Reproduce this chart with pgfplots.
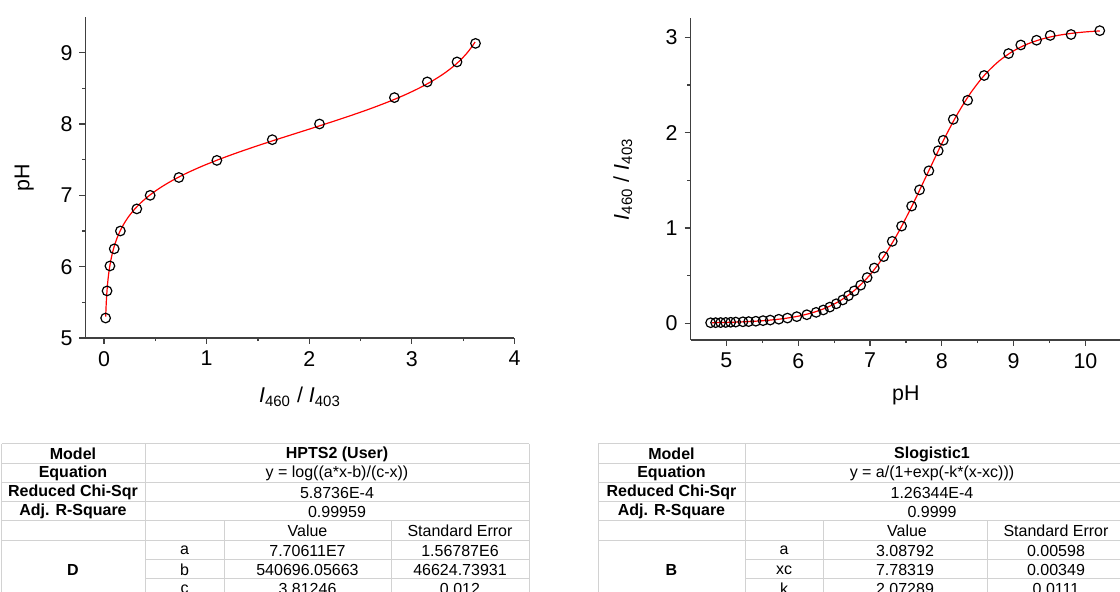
\documentclass[border=0pt]{standalone}
\usepackage{fontspec}
\setmainfont{Liberation Sans}
\usepackage{pgfplots}
\pgfplotsset{compat=1.18}

% fit parameters are only printed in the tables; curves are listed point by point
\pgfplotstableread{
x      y
0.016  5.28
0.030  5.66
0.058  6.01
0.100  6.25
0.160  6.50
0.320  6.81
0.450  7.00
0.730  7.25
1.100  7.49
1.640  7.78
2.100  8.00
2.830  8.37
3.150  8.59
3.440  8.87
3.620  9.13
}\phdata

\pgfplotstableread{
x       y
0.01684 5.30
0.01938 5.40
0.02257 5.50
0.02657 5.60
0.03161 5.70
0.03792 5.80
0.04584 5.90
0.05577 6.00
0.06819 6.10
0.08371 6.20
0.1031  6.30
0.1271  6.40
0.1570  6.50
0.1940  6.60
0.2394  6.70
0.2950  6.80
0.3626  6.90
0.4441  7.00
0.5414  7.10
0.6562  7.20
0.7897  7.30
0.9425  7.40
1.1142  7.50
1.3033  7.60
1.5067  7.70
1.7201  7.80
1.9386  7.90
2.1562  8.00
2.3675  8.10
2.5675  8.20
2.7522  8.30
2.9191  8.40
3.0668  8.50
3.1953  8.60
3.3053  8.70
3.3983  8.80
3.4759  8.90
3.5402  9.00
3.5930  9.10
3.6156  9.15
}\phfit

\pgfplotstableread{
x     y
4.78  0.006
4.85  0.007
4.92  0.008
4.99  0.009
5.06  0.011
5.13  0.013
5.23  0.016
5.31  0.018
5.41  0.022
5.51  0.028
5.61  0.034
5.73  0.043
5.85  0.055
5.98  0.070
6.12  0.090
6.25  0.115
6.35  0.140
6.44  0.170
6.53  0.205
6.62  0.245
6.70  0.290
6.78  0.340
6.87  0.400
6.96  0.480
7.06  0.580
7.19  0.700
7.31  0.860
7.44  1.020
7.58  1.230
7.69  1.400
7.82  1.600
7.95  1.810
8.02  1.920
8.16  2.140
8.36  2.340
8.59  2.600
8.93  2.830
9.10  2.920
9.32  2.970
9.51  3.020
9.80  3.030
10.20 3.070
}\ratiodata

\pgfplotstableread{
x     y
4.8   0.00635
5.0   0.00961
5.2   0.01452
5.4   0.02193
5.6   0.03308
5.8   0.04979
6.0   0.07477
6.2   0.1118
6.4   0.1661
6.6   0.2447
6.8   0.3559
7.0   0.5086
7.2   0.7099
7.4   0.9611
7.6   1.2543
7.8   1.5707
8.0   1.8852
8.2   2.1723
8.4   2.4155
8.6   2.6082
8.8   2.7534
9.0   2.8585
9.2   2.9324
9.4   2.9834
9.6   3.0181
9.8   3.0414
10.0  3.0570
10.2  3.0675
}\ratiofit

\pgfplotsset{
  origin/.style={
    scale only axis,
    axis x line*=bottom, axis y line*=left,
    axis line style={black!75, line width=0.7pt},
    every tick/.style={black!75, line width=0.6pt},
    tick align=outside,
    major tick length=3pt, minor tick length=1.6pt,
    minor tick num=1,
    tick label style={font=\fontsize{10.7}{12}\selectfont},
    label style={font=\fontsize{10.7}{12}\selectfont},
    /pgf/number format/assume math mode=true,
    clip=false,
  },
  dots/.style={only marks, mark=o, mark size=2.4pt,
    mark options={black, line width=0.6pt}},
  fitline/.style={red, line width=0.6pt, smooth, no marks},
}

\newcommand{\ratio}{{\itshape I}\textsubscript{460} / {\itshape I}\textsubscript{403}}
\newcommand{\hd}{\fontsize{8}{9}\selectfont\bfseries}

\begin{document}
\begin{tikzpicture}
\path[use as bounding box] (0,0) rectangle (560pt,-296pt);

% left: pH against intensity ratio
\begin{axis}[origin,
  at={(42.75pt,-169pt)}, anchor=south west,
  width=214.5pt, height=160.5pt,
  xmin=-0.18, xmax=4, ymin=5, ymax=9.5,
  xtick={0,1,2,3,4}, ytick={5,6,7,8,9},
  xlabel={\ratio}, ylabel={pH},
  xlabel style={at={(axis description cs:0.5,-0.183)}, anchor=center},
  ylabel style={at={(axis description cs:-0.143,0.5)}, anchor=center},
]
\addplot[dots] table {\phdata};
\addplot[fitline] table {\phfit};
\end{axis}

% right: intensity ratio against pH
\begin{axis}[origin,
  at={(345.25pt,-170pt)}, anchor=south west,
  width=215.4pt, height=160.85pt,
  xmin=4.5, xmax=10.5, ymin=-0.175, ymax=3.2,
  xtick={5,6,7,8,9,10}, ytick={0,1,2,3},
  xlabel={pH}, ylabel={\ratio},
  xlabel style={at={(axis description cs:0.5,-0.171)}, anchor=center},
  ylabel style={at={(axis description cs:-0.157,0.5)}, anchor=center},
]
\addplot[dots] table {\ratiodata};
\addplot[fitline] table {\ratiofit};
\end{axis}

% fit report tables, pixel units
\begin{scope}[x=0.5pt, y=-0.5pt, every node/.style={font=\fontsize{8}{9}\selectfont, inner sep=0pt}]
  \begin{scope}[gray!35, line width=0.5pt]
    % left table
    \draw (1.5,444) -- (529,444);
    \draw (1.5,463.5) -- (529,463.5);
    \draw (1.5,482.5) -- (529,482.5);
    \draw (1.5,502) -- (529,502);
    \draw (1.5,521) -- (529,521);
    \draw (1.5,540.5) -- (529,540.5);
    \draw (145,560) -- (529,560);
    \draw (145,579) -- (529,579);
    \draw (1.5,444) -- (1.5,600);
    \draw (145,444) -- (145,600);
    \draw (224,521) -- (224,600);
    \draw (391,521) -- (391,600);
    \draw (529,444) -- (529,600);
    % right table
    \draw (598,444) -- (1125,444);
    \draw (598,463.5) -- (1125,463.5);
    \draw (598,482.5) -- (1125,482.5);
    \draw (598,502) -- (1125,502);
    \draw (598,521) -- (1125,521);
    \draw (598,540.5) -- (1125,540.5);
    \draw (745,560) -- (1125,560);
    \draw (745,579) -- (1125,579);
    \draw (598,444) -- (598,600);
    \draw (745,444) -- (745,600);
    \draw (823,521) -- (823,600);
    \draw (987,521) -- (987,600);
  \end{scope}

  \node[font=\hd] at (73,454) {Model};
  \node[font=\hd] at (73,473.5) {Equation};
  \node[font=\hd] at (73,492.5) {Reduced Chi-Sqr};
  \node[font=\hd] at (73,511.5) {Adj. R-Square};
  \node[font=\hd] at (73,570) {D};
  \node[font=\hd] at (337,454) {HPTS2 (User)};
  \node at (337,473.5) {y = log((a*x-b)/(c-x))};
  \node at (337,492.5) {5.8736E-4};
  \node at (337,511.5) {0.99959};
  \node at (307.5,531) {Value};
  \node at (460,531) {Standard Error};
  \node at (184.5,550.5) {a};
  \node at (184.5,570) {b};
  \node at (184.5,589) {c};
  \node at (307.5,550.5) {7.70611E7};
  \node at (307.5,570) {540696.05663};
  \node at (307.5,589) {3.81246};
  \node at (460,550.5) {1.56787E6};
  \node at (460,570) {46624.73931};
  \node at (460,589) {0.012};

  \node[font=\hd] at (671.5,454) {Model};
  \node[font=\hd] at (671.5,473.5) {Equation};
  \node[font=\hd] at (671.5,492.5) {Reduced Chi-Sqr};
  \node[font=\hd] at (671.5,511.5) {Adj. R-Square};
  \node[font=\hd] at (671.5,570) {B};
  \node[font=\hd] at (932,454) {Slogistic1};
  \node at (932,473.5) {y = a/(1+exp(-k*(x-xc)))};
  \node at (932,492.5) {1.26344E-4};
  \node at (932,511.5) {0.9999};
  \node at (907,531) {Value};
  \node at (1056,531) {Standard Error};
  \node at (784,550.5) {a};
  \node at (784,570) {xc};
  \node at (784,589) {k};
  \node at (905,550.5) {3.08792};
  \node at (905,570) {7.78319};
  \node at (905,589) {2.07289};
  \node at (1056,550.5) {0.00598};
  \node at (1056,570) {0.00349};
  \node at (1056,589) {0.0111};
\end{scope}
\end{tikzpicture}
\end{document}
